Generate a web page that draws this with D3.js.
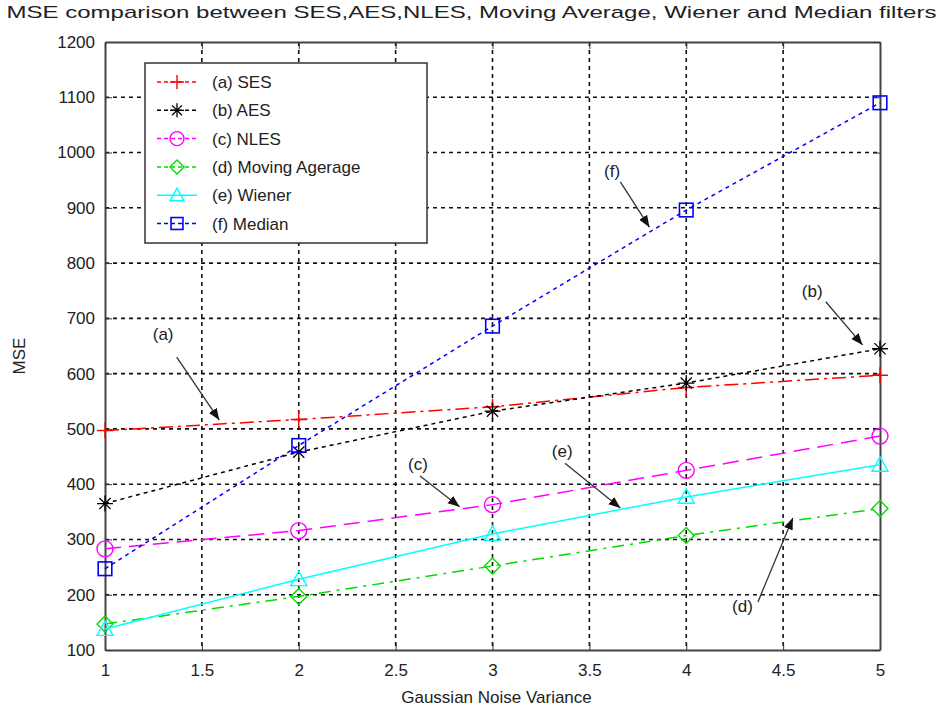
<!DOCTYPE html>
<html>
<head>
<meta charset="utf-8">
<script src="https://d3js.org/d3.v7.min.js"></script>
<style>
  body { margin: 0; background: #fff; }
  text { font-family: "Liberation Sans", Arial, sans-serif; fill: #222; }
</style>
</head>
<body>
<div id="chart"></div>
<script>
// data
var variance = [1, 2, 3, 4, 5];
var ses    = [497, 517, 540, 575, 597];
var aes    = [365, 458, 532, 583, 645];
var nles   = [283, 316, 363, 425, 487];
var movAvg = [147, 197, 252, 307, 356];
var wiener = [138, 228, 310, 377, 435];
var median = [247, 470, 686, 896, 1090];

var xTicks = [1, 1.5, 2, 2.5, 3, 3.5, 4, 4.5, 5];
var yTicks = [100, 200, 300, 400, 500, 600, 700, 800, 900, 1000, 1100, 1200];

var series = [
  {name: "(a) SES", values: ses, color: "#ff0000", dash: "14,5,3,5", marker: "plus"},
  {name: "(b) AES", values: aes, color: "#000000", dash: "4,4", marker: "star"},
  {name: "(c) NLES", values: nles, color: "#ff00ff", dash: "16,8", marker: "circle"},
  {name: "(d) Moving Agerage", values: movAvg, color: "#00dd00", dash: "12,6,3,6", marker: "diamond"},
  {name: "(e) Wiener", values: wiener, color: "#00ffff", dash: null, marker: "triangle"},
  {name: "(f) Median", values: median, color: "#0000ff", dash: "4,4", marker: "square"}
];

// annotation labels: text position and arrow from -> to (data units)
var notes = [
  {label: "(a)", tx: 1.30, ty: 661, x1: 1.37, y1: 630, x2: 1.59, y2: 516},
  {label: "(b)", tx: 4.65, ty: 739, x1: 4.72, y1: 730, x2: 4.91, y2: 652},
  {label: "(c)", tx: 2.615, ty: 426, x1: 2.626, y1: 415, x2: 2.83, y2: 359},
  {label: "(e)", tx: 3.36, ty: 449, x1: 3.374, y1: 438, x2: 3.66, y2: 357},
  {label: "(f)", tx: 3.617, ty: 956, x1: 3.66, y1: 947, x2: 3.81, y2: 865},
  {label: "(d)", tx: 4.29, ty: 169, x1: 4.37, y1: 187, x2: 4.55, y2: 339}
];

var W = 943, H = 714;
var margin = {top: 42, right: 63, bottom: 64, left: 105};
var width = W - margin.left - margin.right;
var height = H - margin.top - margin.bottom;

var svg = d3.select("#chart").append("svg")
    .attr("width", W)
    .attr("height", H);

svg.append("text")
    .attr("x", W / 2).attr("y", 18)
    .attr("text-anchor", "middle")
    .attr("font-size", 17)
    .attr("textLength", 930)
    .attr("lengthAdjust", "spacingAndGlyphs")
    .text("MSE comparison between SES,AES,NLES, Moving Average, Wiener and Median filters");

var g = svg.append("g")
    .attr("transform", "translate(" + margin.left + "," + margin.top + ")");

var x = d3.scaleLinear().domain([1, 5]).range([0, width]);
var y = d3.scaleLinear().domain([100, 1200]).range([height, 0]);

// grid
g.selectAll(".gx").data(xTicks.slice(1, -1)).enter().append("line")
    .attr("x1", d => x(d)).attr("x2", d => x(d))
    .attr("y1", 0).attr("y2", height)
    .attr("stroke", "#111").attr("stroke-width", 1.6).attr("stroke-dasharray", "4,4");
g.selectAll(".gy").data(yTicks.slice(1, -1)).enter().append("line")
    .attr("x1", 0).attr("x2", width)
    .attr("y1", d => y(d)).attr("y2", d => y(d))
    .attr("stroke", "#111").attr("stroke-width", 1.6).attr("stroke-dasharray", "4,4");

// axes with inward ticks
g.append("g").attr("transform", "translate(0," + height + ")")
    .call(d3.axisBottom(x).tickValues(xTicks).tickSizeInner(-7).tickSizeOuter(0).tickPadding(14).tickFormat(d3.format("")));
g.append("g")
    .call(d3.axisLeft(y).tickValues(yTicks).tickSizeInner(-7).tickSizeOuter(0).tickPadding(10).tickFormat(d3.format("d")));
g.append("g").call(d3.axisTop(x).tickValues(xTicks).tickSizeInner(-7).tickSizeOuter(0).tickFormat(""));
g.append("g").attr("transform", "translate(" + width + ",0)")
    .call(d3.axisRight(y).tickValues(yTicks).tickSizeInner(-7).tickSizeOuter(0).tickFormat(""));
g.selectAll(".domain").attr("stroke", "#444").attr("stroke-width", 2);
g.selectAll(".tick line").attr("stroke", "#333");
g.selectAll(".tick text").attr("font-size", 17).attr("fill", "#222")
    .attr("font-family", "Liberation Sans, Arial, sans-serif");

svg.append("text")
    .attr("x", margin.left + width / 2 + 4).attr("y", 703)
    .attr("text-anchor", "middle").attr("font-size", 17)
    .text("Gaussian Noise Variance");
svg.append("text")
    .attr("transform", "translate(25," + (margin.top + height / 2 + 10) + ") rotate(-90)")
    .attr("text-anchor", "middle").attr("font-size", 17)
    .text("MSE");

function drawMarker(sel, type, color, s) {
  if (type === "plus") {
    sel.append("path").attr("d", "M" + (-s) + ",0H" + s + "M0," + (-s) + "V" + s)
      .attr("stroke", color).attr("stroke-width", 1.4).attr("fill", "none");
  } else if (type === "star") {
    var k = s * 0.7;
    sel.append("path").attr("d", "M" + (-s) + ",0H" + s + "M0," + (-s) + "V" + s +
        "M" + (-k) + "," + (-k) + "L" + k + "," + k + "M" + (-k) + "," + k + "L" + k + "," + (-k))
      .attr("stroke", color).attr("stroke-width", 1.3).attr("fill", "none");
  } else if (type === "circle") {
    sel.append("circle").attr("r", s).attr("stroke", color).attr("stroke-width", 1.4).attr("fill", "none");
  } else if (type === "diamond") {
    sel.append("path").attr("d", "M0," + (-s) + "L" + s + ",0L0," + s + "L" + (-s) + ",0Z")
      .attr("stroke", color).attr("stroke-width", 1.4).attr("fill", "none");
  } else if (type === "triangle") {
    sel.append("path").attr("d", "M0," + (-s) + "L" + s + "," + (s * 0.8) + "L" + (-s) + "," + (s * 0.8) + "Z")
      .attr("stroke", color).attr("stroke-width", 1.4).attr("fill", "none");
  } else if (type === "square") {
    sel.append("rect").attr("x", -s * 0.85).attr("y", -s * 0.85).attr("width", s * 1.7).attr("height", s * 1.7)
      .attr("stroke", color).attr("stroke-width", 1.6).attr("fill", "none");
  }
}

var line = d3.line().x((d, i) => x(variance[i])).y(d => y(d));

series.forEach(function(s) {
  g.append("path").datum(s.values)
    .attr("d", line)
    .attr("fill", "none")
    .attr("stroke", s.color)
    .attr("stroke-width", 1.5)
    .attr("stroke-dasharray", s.dash);
  s.values.forEach(function(v, i) {
    var m = g.append("g").attr("transform", "translate(" + x(variance[i]) + "," + y(v) + ")");
    drawMarker(m, s.marker, s.color, 8);
  });
});

// annotations
svg.append("defs").append("marker")
    .attr("id", "arrow").attr("viewBox", "0 0 10 10")
    .attr("refX", 10).attr("refY", 5)
    .attr("markerWidth", 9).attr("markerHeight", 9)
    .attr("orient", "auto-start-reverse")
  .append("path").attr("d", "M0,1L10,5L0,9Z").attr("fill", "#111");

notes.forEach(function(n) {
  g.append("text")
    .attr("x", x(n.tx)).attr("y", y(n.ty))
    .attr("text-anchor", "middle").attr("font-size", 17)
    .text(n.label);
  g.append("line")
    .attr("x1", x(n.x1)).attr("y1", y(n.y1))
    .attr("x2", x(n.x2)).attr("y2", y(n.y2))
    .attr("stroke", "#333").attr("stroke-width", 1.3)
    .attr("marker-end", "url(#arrow)");
});

// legend
var lg = svg.append("g").attr("transform", "translate(145,63)");
lg.append("rect").attr("width", 282).attr("height", 180)
    .attr("fill", "#fff").attr("stroke", "#333").attr("stroke-width", 1.5);
series.forEach(function(s, i) {
  var yy = 19 + i * 28.3;
  lg.append("line").attr("x1", 12).attr("x2", 52).attr("y1", yy).attr("y2", yy)
    .attr("stroke", s.color).attr("stroke-width", 1.5).attr("stroke-dasharray", s.dash ? "4,3" : null);
  var m = lg.append("g").attr("transform", "translate(32," + yy + ")");
  drawMarker(m, s.marker, s.color, 7);
  lg.append("text").attr("x", 67).attr("y", yy + 6).attr("font-size", 17).text(s.name);
});
</script>
</body>
</html>
